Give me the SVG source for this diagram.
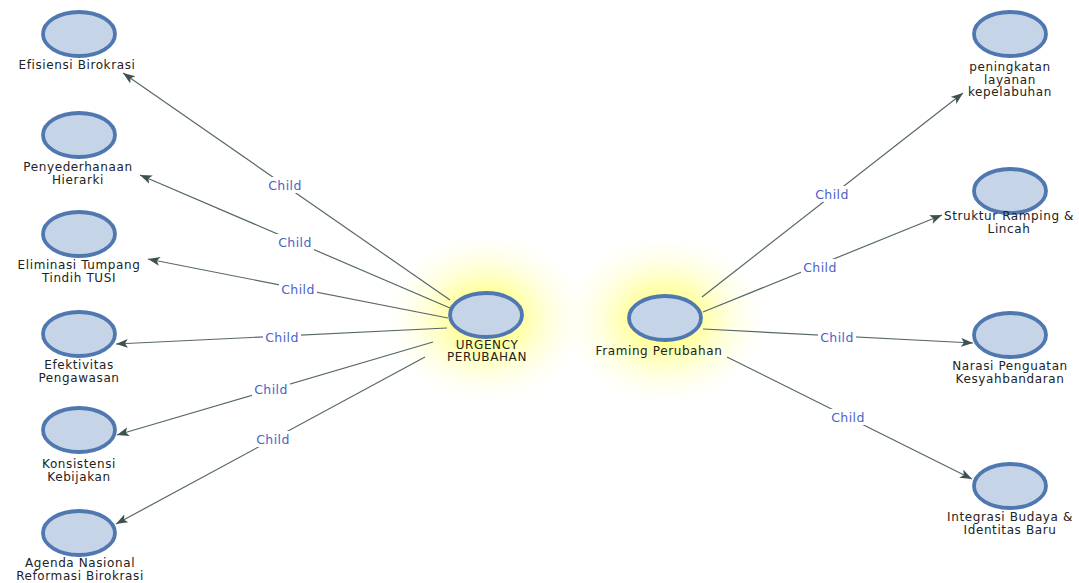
<svg xmlns="http://www.w3.org/2000/svg" width="1079" height="583" viewBox="0 0 1079 583">
<style>
.node ellipse.c{fill:#c6d4e8;stroke:#5078b0;stroke-width:3.8}
.lbl{font-family:"DejaVu Sans",Verdana,sans-serif;font-size:12px;fill:#222222;text-anchor:middle;letter-spacing:0.6px}
.edge{stroke:#56676a;stroke-width:1.2;fill:none;marker-end:url(#arr)}
.el text{font-family:"DejaVu Sans",Verdana,sans-serif;font-size:12.5px;fill:#4b62c4;text-anchor:middle;letter-spacing:0.4px}
.el rect{fill:#ffffff}
</style>
<defs>
<marker id="arr" markerUnits="userSpaceOnUse" markerWidth="14" markerHeight="10" refX="12" refY="4.5" orient="auto">
<path d="M0,0 L12,4.5 L0,9 L3,4.5 Z" fill="#3e5050"/>
</marker>
<radialGradient id="glow">
<stop offset="0" stop-color="#ffff55"/>
<stop offset="0.4" stop-color="#ffff80" stop-opacity="0.6"/>
<stop offset="0.75" stop-color="#ffffc0" stop-opacity="0.25"/>
<stop offset="1" stop-color="#ffffff" stop-opacity="0"/>
</radialGradient>
</defs>
<rect width="1079" height="583" fill="#ffffff"/>
<ellipse cx="486" cy="318" rx="105" ry="88" fill="url(#glow)"/>
<ellipse cx="665" cy="320" rx="105" ry="88" fill="url(#glow)"/>
<g id="connectors">
<line class="edge" x1="450" y1="300" x2="123" y2="73"/>
<line class="edge" x1="450" y1="308" x2="140" y2="175"/>
<line class="edge" x1="448" y1="318" x2="148" y2="259"/>
<line class="edge" x1="447" y1="328" x2="116" y2="344"/>
<line class="edge" x1="433" y1="342" x2="117" y2="435"/>
<line class="edge" x1="425" y1="357" x2="116" y2="524"/>
<line class="edge" x1="702" y1="297" x2="963" y2="93"/>
<line class="edge" x1="703" y1="312" x2="942" y2="215"/>
<line class="edge" x1="703" y1="329" x2="973" y2="343"/>
<line class="edge" x1="727" y1="357" x2="972" y2="479"/>
<g class="el">
<rect x="266" y="177" width="38" height="16"/><text x="285" y="189.5">Child</text>
<rect x="276" y="234" width="38" height="16"/><text x="295" y="246.5">Child</text>
<rect x="279" y="281" width="38" height="16"/><text x="298" y="293.5">Child</text>
<rect x="263" y="329" width="38" height="16"/><text x="282" y="341.5">Child</text>
<rect x="252" y="381" width="38" height="16"/><text x="271" y="393.5">Child</text>
<rect x="254" y="431" width="38" height="16"/><text x="273" y="443.5">Child</text>
<rect x="813" y="186" width="38" height="16"/><text x="832" y="198.5">Child</text>
<rect x="801" y="259" width="38" height="16"/><text x="820" y="271.5">Child</text>
<rect x="818" y="329" width="38" height="16"/><text x="837" y="341.5">Child</text>
<rect x="829" y="409" width="38" height="16"/><text x="848" y="421.5">Child</text>
</g>
</g>
<g id="n-urgency" class="node"><ellipse class="c" cx="486" cy="315" rx="36" ry="22"/><text class="lbl" x="487" y="349">URGENCY</text><text class="lbl" x="487" y="361">PERUBAHAN</text></g>
<g id="n-framing" class="node"><ellipse class="c" cx="665" cy="318" rx="36" ry="22"/><text class="lbl" x="659" y="355">Framing Perubahan</text></g>
<g id="n-efisiensi" class="node"><ellipse class="c" cx="79" cy="34" rx="36" ry="22"/><text class="lbl" x="77" y="69">Efisiensi Birokrasi</text></g>
<g id="n-penyederhanaan" class="node"><ellipse class="c" cx="79" cy="135" rx="36" ry="22"/><text class="lbl" x="78" y="171">Penyederhanaan</text><text class="lbl" x="78" y="183.5">Hierarki</text></g>
<g id="n-eliminasi" class="node"><ellipse class="c" cx="79" cy="234" rx="36" ry="22"/><text class="lbl" x="79" y="269">Eliminasi Tumpang</text><text class="lbl" x="79" y="281.5">Tindih TUSI</text></g>
<g id="n-efektivitas" class="node"><ellipse class="c" cx="79" cy="334" rx="36" ry="22"/><text class="lbl" x="79" y="369">Efektivitas</text><text class="lbl" x="79" y="381.5">Pengawasan</text></g>
<g id="n-konsistensi" class="node"><ellipse class="c" cx="79" cy="430" rx="36" ry="22"/><text class="lbl" x="79" y="468">Konsistensi</text><text class="lbl" x="79" y="480.5">Kebijakan</text></g>
<g id="n-agenda" class="node"><ellipse class="c" cx="79" cy="533" rx="36" ry="22"/><text class="lbl" x="80" y="567">Agenda Nasional</text><text class="lbl" x="80" y="579.5">Reformasi Birokrasi</text></g>
<g id="n-peningkatan" class="node"><ellipse class="c" cx="1010" cy="34" rx="36" ry="22"/><text class="lbl" x="1010" y="71">peningkatan</text><text class="lbl" x="1010" y="83.5">layanan</text><text class="lbl" x="1010" y="96">kepelabuhan</text></g>
<g id="n-struktur" class="node"><ellipse class="c" cx="1010" cy="191" rx="36" ry="22"/><text class="lbl" x="1009" y="220">Struktur Ramping &amp;</text><text class="lbl" x="1009" y="232.5">Lincah</text></g>
<g id="n-narasi" class="node"><ellipse class="c" cx="1010" cy="335" rx="36" ry="22"/><text class="lbl" x="1010" y="370">Narasi Penguatan</text><text class="lbl" x="1010" y="382.5">Kesyahbandaran</text></g>
<g id="n-integrasi" class="node"><ellipse class="c" cx="1010" cy="486" rx="36" ry="22"/><text class="lbl" x="1010" y="521">Integrasi Budaya &amp;</text><text class="lbl" x="1010" y="533.5">Identitas Baru</text></g>
</svg>
